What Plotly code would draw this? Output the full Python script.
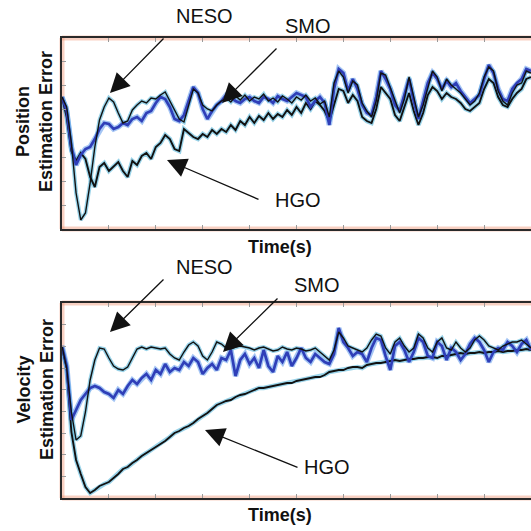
import plotly.graph_objects as go

# ---------------- data (arbitrary error units) ----------------
time_s = list(range(101))

pos_neso = [132, 122, 86, 36, 9, 16, 46, 82, 109, 122, 131, 127, 116, 106, 108, 119, 124, 128, 126, 131,
            130, 134, 137, 128, 118, 110, 107, 124, 140, 136, 124, 120, 118, 124, 128, 131, 127, 133, 129, 134,
            128, 132, 130, 135, 128, 131, 127, 133, 130, 126, 132, 129, 134, 128, 131, 125, 128, 112, 146, 158,
            152, 136, 148, 144, 126, 118, 112, 128, 156, 154, 142, 128, 116, 130, 152, 132, 112, 124, 142, 158,
            152, 138, 150, 144, 140, 136, 130, 124, 128, 136, 152, 162, 158, 138, 128, 124, 136, 144, 146, 158, 156]

pos_smo = [132, 118, 82, 64, 74, 80, 82, 90, 100, 106, 105, 100, 102, 106, 104, 110, 112, 108, 116, 118,
           126, 132, 130, 122, 110, 108, 114, 128, 142, 136, 120, 110, 118, 124, 128, 134, 132, 128, 126, 130,
           132, 128, 126, 132, 130, 126, 133, 130, 128, 132, 136, 134, 132, 122, 128, 132, 126, 104, 140, 160,
           156, 138, 150, 140, 124, 116, 114, 132, 158, 150, 140, 124, 118, 134, 150, 128, 110, 128, 146, 156,
           150, 140, 148, 142, 146, 138, 132, 126, 130, 134, 150, 164, 156, 140, 130, 128, 140, 146, 150, 160, 158]

pos_hgo = [132, 112, 78, 68, 76, 70, 52, 42, 62, 66, 58, 63, 67, 58, 52, 68, 64, 73, 76, 70,
           82, 86, 94, 90, 80, 78, 100, 96, 92, 90, 95, 92, 99, 95, 100, 97, 104, 99, 108, 104,
           112, 106, 113, 109, 116, 110, 115, 112, 119, 114, 122, 116, 126, 120, 128, 124, 118, 108, 124, 140,
           138, 126, 134, 128, 112, 108, 106, 120, 142, 136, 130, 114, 108, 122, 136, 118, 104, 116, 134, 142,
           138, 130, 136, 132, 130, 126, 120, 118, 122, 126, 140, 150, 146, 132, 124, 122, 130, 136, 140, 150, 152]

vel_neso = [152, 130, 86, 58, 62, 86, 118, 138, 150, 149, 140, 132, 129, 128, 131, 140, 149, 151, 149, 151,
            150, 149, 150, 144, 140, 138, 146, 153, 156, 152, 142, 138, 146, 156, 154, 150, 149, 151, 152, 151,
            150, 148, 150, 151, 149, 147, 148, 151, 149, 148, 150, 149, 147, 148, 150, 146, 142, 138, 148, 166,
            160, 152, 150, 148, 146, 150, 158, 164, 162, 150, 144, 156, 160, 152, 146, 150, 164, 160, 150, 146,
            156, 160, 150, 148, 156, 150, 146, 150, 158, 162, 158, 152, 150, 148, 152, 154, 156, 156, 158, 154, 150]

vel_smo = [152, 132, 78, 88, 98, 104, 110, 112, 110, 106, 104, 100, 108, 104, 112, 118, 114, 120, 124, 118,
           128, 124, 134, 126, 130, 128, 136, 132, 140, 136, 124, 130, 134, 128, 140, 138, 148, 122, 138, 144,
           134, 140, 130, 148, 132, 126, 142, 136, 146, 132, 140, 150, 140, 136, 144, 140, 136, 134, 144, 170,
           156, 150, 142, 146, 144, 136, 150, 160, 158, 142, 128, 152, 156, 148, 136, 146, 160, 156, 142, 140,
           156, 152, 138, 150, 146, 138, 144, 154, 160, 156, 148, 136, 146, 150, 148, 156, 152, 146, 154, 158, 148]

vel_hgo = [150, 130, 66, 38, 24, 11, 5, 8, 12, 14, 16, 20, 24, 29, 31, 35, 38, 42, 45, 48,
           51, 54, 57, 61, 65, 67, 70, 72, 75, 79, 82, 85, 89, 93, 95, 97, 98, 101, 103, 104,
           106, 108, 110, 110, 111, 112, 113, 114, 115, 115, 117, 118, 119, 120, 121, 121, 123, 126, 127, 128,
           128, 130, 131, 131, 130, 133, 134, 135, 135, 136, 137, 138, 137, 138, 139, 139, 140, 140, 141, 141,
           140, 142, 142, 143, 144, 145, 144, 145, 145, 146, 145, 146, 146, 147, 146, 147, 147, 148, 148, 149, 148]

panel_titles = ["Position<br>Estimation Error", "Velocity<br>Estimation Error"]
x_title = "Time(s)"

# ---------------- figure ----------------
W = H = 531
FONT = "Liberation Sans, Arial, sans-serif"
BLACK = "#111111"
BLUE = "#2f3fb8"
HALO_K = "rgba(70,175,215,0.55)"
HALO_B = "rgba(90,150,235,0.55)"

fig = go.Figure()


def add_panel(row_axes, neso, smo, hgo):
    xa, ya = row_axes
    for data, col, w in ((hgo, HALO_K, 4.5), (neso, HALO_K, 4), (smo, HALO_B, 5.5)):
        fig.add_trace(go.Scatter(x=time_s, y=data, mode="lines", xaxis=xa, yaxis=ya,
                                 line=dict(color=col, width=w), hoverinfo="skip", showlegend=False))
    fig.add_trace(go.Scatter(x=time_s, y=hgo, mode="lines", xaxis=xa, yaxis=ya, name="HGO",
                             line=dict(color=BLACK, width=1.9), showlegend=False))
    fig.add_trace(go.Scatter(x=time_s, y=smo, mode="lines", xaxis=xa, yaxis=ya, name="SMO",
                             line=dict(color=BLUE, width=2.7), showlegend=False))
    fig.add_trace(go.Scatter(x=time_s, y=neso, mode="lines", xaxis=xa, yaxis=ya, name="NESO",
                             line=dict(color=BLACK, width=1.4), showlegend=False))


add_panel(("x", "y"), pos_neso, pos_smo, pos_hgo)
add_panel(("x2", "y2"), vel_neso, vel_smo, vel_hgo)

x0 = 62 / W
top_dom = [1 - 229 / H, 1 - 38 / H]
bot_dom = [1 - 498 / H, 1 - 303 / H]

axis_common = dict(showline=True, linecolor="#2a2a2a", linewidth=1.5, ticks="inside",
                   ticklen=4, tickcolor="#9a9a9a", showticklabels=False, showgrid=False,
                   zeroline=False, fixedrange=True)

top_y_max = 191
bot_y_max = 195
fig.update_layout(
    width=W, height=H,
    margin=dict(l=0, r=0, t=0, b=0),
    paper_bgcolor="white", plot_bgcolor="white",
    xaxis=dict(domain=[x0, 1], range=[0, 100], anchor="y", mirror="ticks",
               tickvals=list(range(0, 101, 10)), **axis_common),
    yaxis=dict(domain=top_dom, range=[0, top_y_max], anchor="x", mirror=False,
               tickvals=[top_y_max * k / 8 for k in range(9)], **axis_common),
    xaxis2=dict(domain=[x0, 1], range=[0, 100], anchor="y2", mirror="ticks",
                tickvals=list(range(0, 101, 10)), **axis_common),
    yaxis2=dict(domain=bot_dom, range=[0, bot_y_max], anchor="x2", mirror=False,
                tickvals=[bot_y_max * k / 9 for k in range(10)], **axis_common),
)


def px(x, y):
    return x / W, 1 - y / H


# salmon glow along the frame
shapes = []
for (ytop, ybot) in ((38, 229), (303, 498)):
    for (xa_, ya_, xb_, yb_) in ((62, ytop, 531, ytop), (62, ybot, 531, ybot), (62, ytop, 62, ybot)):
        a = px(xa_, ya_)
        b = px(xb_, yb_)
        shapes.append(dict(type="line", xref="paper", yref="paper", x0=a[0], y0=a[1], x1=b[0], y1=b[1],
                           line=dict(color="rgba(240,150,120,0.45)", width=5), layer="below"))
fig.update_layout(shapes=shapes)

ann = []
# labels
labels = [("NESO", 204, 16), ("SMO", 308, 26), ("HGO", 298, 200),
          ("NESO", 204, 267), ("SMO", 317, 285), ("HGO", 327, 467)]
for txt, lx, ly in labels:
    a = px(lx, ly)
    ann.append(dict(text=txt, x=a[0], y=a[1], xref="paper", yref="paper", showarrow=False,
                    xanchor="center", yanchor="middle", font=dict(family=FONT, size=20, color="#111")))
# arrows: tip (x, y) and tail offset
arrows = [(110, 93, 55, -56), (222, 103, 56, -56), (167, 160, 93, 40),
          (110, 332, 55, -54), (223, 352, 56, -55), (205, 430, 94, 38)]
for tx, ty, dx, dy in arrows:
    a = px(tx, ty)
    ann.append(dict(text="", x=a[0], y=a[1], xref="paper", yref="paper", showarrow=True,
                    ax=dx, ay=dy, arrowhead=2, arrowsize=3, arrowwidth=1.3, arrowcolor="#111",
                    standoff=0))
# axis titles
for txt, cy in ((panel_titles[0], 122), (panel_titles[1], 390)):
    a = px(35, cy)
    ann.append(dict(text="<b>" + txt + "</b>", x=a[0], y=a[1], xref="paper", yref="paper",
                    showarrow=False, textangle=-90, xanchor="center", yanchor="middle",
                    font=dict(family=FONT, size=18, color="#111")))
for cy in (247, 515):
    a = px(280, cy)
    ann.append(dict(text="<b>" + x_title + "</b>", x=a[0], y=a[1], xref="paper", yref="paper",
                    showarrow=False, xanchor="center", yanchor="middle",
                    font=dict(family=FONT, size=18, color="#111")))
fig.update_layout(annotations=ann)

fig.write_html("out.html")
